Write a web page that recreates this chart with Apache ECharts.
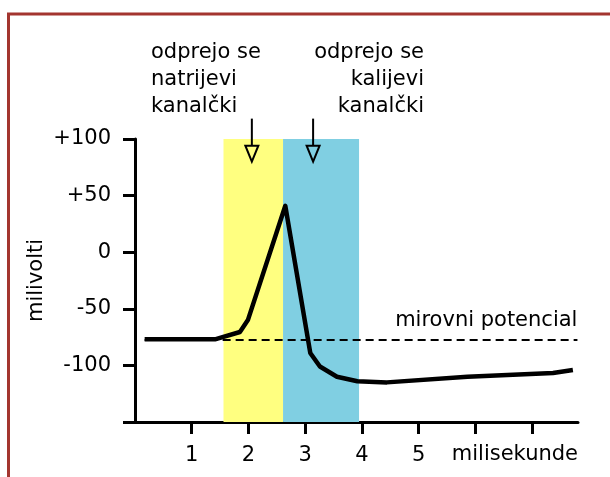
<!DOCTYPE html>
<html>
<head>
<meta charset="utf-8">
<script src="https://cdn.jsdelivr.net/npm/echarts@6/dist/echarts.min.js"></script>
<style>
  html, body { margin: 0; padding: 0; background: #fff; }
  #main { width: 610px; height: 477px; }
</style>
</head>
<body>
<div id="main"></div>
<script>
// akcijski potencial - podatki odčitani s slike
var timeMs = [0.17, 1.41, 1.85, 1.99, 2.65, 3.09, 3.26, 3.56, 3.92, 4.44, 5.86, 7.37, 7.72];
var millivolts = [-77, -77, -70.5, -60, 41, -89, -101, -110, -114, -115, -110, -106.7, -104];

var restingPotential = -77;
var restingFrom = 0.17;
var restingTo = 7.8;

var sodiumBand = [1.56, 2.61];
var potassiumBand = [2.61, 3.95];

// puščici: x, začetek, konica (mV)
var arrowX = [2.06, 3.14];
var arrowTop = 118;
var arrowTip = 80;

var yTicks = [-150, -100, -50, 0, 50, 100];
var xTicks = [1, 2, 3, 4, 5, 6, 7];
var xLabels = [1, 2, 3, 4, 5];

var font = 'DejaVu Sans';
var fs = 21;

var chart = echarts.init(document.getElementById('main'));

chart.setOption({
    animation: false,
    grid: {left: 135, top: 139, width: 443, height: 283},
    xAxis: {
        type: 'value',
        min: 0,
        max: 7.81,
        splitLine: {show: false},
        axisLine: {onZero: false, lineStyle: {color: '#000', width: 3}},
        axisTick: {customValues: xTicks, length: 12, lineStyle: {color: '#000', width: 3}},
        axisLabel: {customValues: xLabels, margin: 23, color: '#000', fontSize: fs, fontFamily: font}
    },
    yAxis: {
        type: 'value',
        min: -150,
        max: 100,
        interval: 50,
        name: 'milivolti',
        nameLocation: 'middle',
        nameRotate: 90,
        nameGap: 88,
        nameMoveOverlap: false,
        nameTextStyle: {color: '#000', fontSize: fs, fontFamily: font},
        splitLine: {show: false},
        axisLine: {show: true, onZero: false, lineStyle: {color: '#000', width: 3}},
        axisTick: {show: true, length: 12, lineStyle: {color: '#000', width: 3}},
        axisLabel: {
            margin: 24,
            color: '#000',
            fontSize: fs,
            fontFamily: font,
            customValues: yTicks,
            formatter: function (v) {
                if (v === -150) return '';
                return v > 0 ? '+' + v : '' + v;
            }
        }
    },
    series: [
        {
            type: 'line',
            data: timeMs.map(function (t, i) { return [t, millivolts[i]]; }),
            showSymbol: false,
            symbol: 'none',
            z: 5,
            lineStyle: {color: '#000', width: 4.5, join: 'round'},
            markArea: {
                silent: true,
                data: [
                    [{xAxis: sodiumBand[0], itemStyle: {color: '#FFFF80'}}, {xAxis: sodiumBand[1]}],
                    [{xAxis: potassiumBand[0], itemStyle: {color: '#80CFE2'}}, {xAxis: potassiumBand[1]}]
                ]
            },
            markLine: {
                silent: true,
                symbol: 'none',
                lineStyle: {color: '#000', width: 2, type: [8, 5]},
                label: {
                    show: true,
                    position: 'insideEndTop',
                    distance: [0, 8],
                    formatter: 'mirovni potencial',
                    color: '#000',
                    fontSize: fs,
                    fontFamily: font
                },
                data: [[
                    {coord: [restingFrom, restingPotential]},
                    {coord: [restingTo, restingPotential]}
                ]]
            }
        },
        {
            type: 'custom',
            clip: false,
            z: 6,
            data: arrowX.map(function (x) { return [x, arrowTop, arrowTip]; }),
            encode: {x: 0, y: 1},
            renderItem: function (params, api) {
                var top = api.coord([api.value(0), api.value(1)]);
                var tip = api.coord([api.value(0), api.value(2)]);
                var h = 16, w = 6.5;
                return {
                    type: 'group',
                    children: [
                        {
                            type: 'line',
                            shape: {x1: top[0], y1: top[1], x2: tip[0], y2: tip[1] - h},
                            style: {stroke: '#000', lineWidth: 2}
                        },
                        {
                            type: 'polygon',
                            shape: {points: [[tip[0] - w, tip[1] - h], [tip[0] + w, tip[1] - h], [tip[0], tip[1]]]},
                            style: {fill: 'none', stroke: '#000', lineWidth: 2}
                        }
                    ]
                };
            }
        }
    ],
    graphic: [
        {
            type: 'polyline',
            shape: {points: [[8.5, 477], [8.5, 14], [610, 14]]},
            style: {stroke: '#A3352F', lineWidth: 3, fill: 'none'}
        },
        {
            type: 'text',
            x: 151,
            y: 39,
            style: {text: 'odprejo se\nnatrijevi\nkanalčki', fill: '#000', fontSize: fs, fontFamily: font, lineHeight: 27, verticalAlign: 'top'}
        },
        {
            type: 'text',
            x: 424,
            y: 39,
            style: {text: 'odprejo se\nkalijevi\nkanalčki', align: 'right', verticalAlign: 'top', fill: '#000', fontSize: fs, fontFamily: font, lineHeight: 27}
        },
        {
            type: 'text',
            x: 578,
            y: 444,
            style: {text: 'milisekunde', align: 'right', verticalAlign: 'top', fill: '#000', fontSize: fs, fontFamily: font}
        }
    ]
});
</script>
</body>
</html>
